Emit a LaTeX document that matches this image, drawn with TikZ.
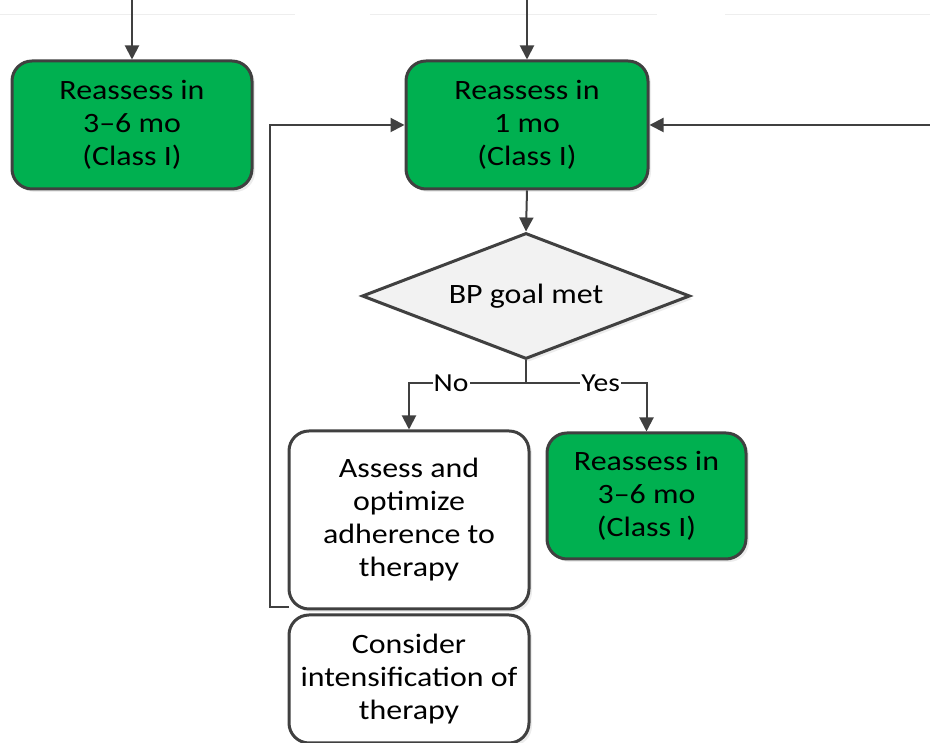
\documentclass[tikz,border=0pt]{standalone}
\usepackage{fontspec}
\setmainfont{Carlito}[FakeStretch=1.14]
\usetikzlibrary{arrows.meta,shapes.geometric,shadows}
\definecolor{boxgreen}{HTML}{00B050}
\definecolor{linegray}{HTML}{404040}
\definecolor{dfill}{HTML}{F2F2F2}
\definecolor{faint}{HTML}{EEEEEE}
\begin{document}
\begin{tikzpicture}[x=1pt,y=1pt,
  every node/.style={font=\fontsize{28}{33}\selectfont, align=center},
  boxbase/.style={draw=linegray, line width=3pt, rounded corners=20pt, inner sep=0pt,
    drop shadow={shadow xshift=3pt, shadow yshift=-3pt, fill=black!12, opacity=0.6}},
  greenbox/.style={boxbase, fill=boxgreen},
  whitebox/.style={boxbase, fill=white},
  decision/.style={diamond, draw=linegray, line width=3pt, fill=dfill, aspect=2.6, inner sep=0pt,
    minimum width=328pt, minimum height=126pt,
    drop shadow={shadow xshift=3pt, shadow yshift=-3pt, fill=black!12, opacity=0.6}},
  conn/.style={draw=linegray, line width=2pt, -{Triangle[length=14pt,width=14pt]}},
  plain/.style={draw=linegray, line width=2pt},
  lbl/.style={fill=white, inner sep=1pt, font=\fontsize{26}{30}\selectfont}
]
\useasboundingbox (0,0) rectangle (930,743);
% faint lines at top
\draw[faint, line width=1pt] (0,728) -- (295,728);
\draw[faint, line width=1pt] (370,728) -- (657,728);
\draw[faint, line width=1pt] (725,728) -- (930,728);

\node[greenbox, minimum width=240pt, minimum height=128pt] (L1) at (132,618) {Reassess in\\3–6 mo\\(Class I)};
\node[greenbox, minimum width=242pt, minimum height=128pt] (M1) at (527,618) {Reassess in\\1 mo\\(Class I)};
\node[decision] (D) at (526,447) {BP goal met};
\node[whitebox, minimum width=240pt, minimum height=178pt] (A) at (409,223) {Assess and\\optimize\\adherence to\\therapy};
\node[greenbox, minimum width=199pt, minimum height=126pt] (R2) at (646.5,247) {Reassess in\\3–6 mo\\(Class I)};
\node[whitebox, minimum width=240pt, minimum height=128pt] (C) at (409,64) {Consider\\intensification of\\therapy};

\coordinate (t1) at (132,743);
\coordinate (t2) at (527,743);
\coordinate (rin) at (930,618);
\coordinate (br) at (526,360);
\coordinate (bl) at (409,360);
\coordinate (by) at (646.5,360);
\coordinate (fb1) at (289,136);
\coordinate (fb2) at (270,136);
\coordinate (fb3) at (270,618);

\draw[conn] (t1) -- (L1.north);
\draw[conn] (t2) -- (M1.north);
\draw[conn] (rin) -- (M1.east);
\draw[conn] (M1.south) -- (D.north);
\draw[plain] (D.south) -- (br);
\draw[conn] (br) -- (bl) node[lbl, pos=0.64] (no) {No} -- (A.north);
\draw[conn] (br) -- (by) node[lbl, pos=0.62] (yes) {Yes} -- (R2.north);
\draw[conn] (fb1) -- (fb2) -- (fb3) -- (fb3 -| M1.west);
\end{tikzpicture}
\end{document}
